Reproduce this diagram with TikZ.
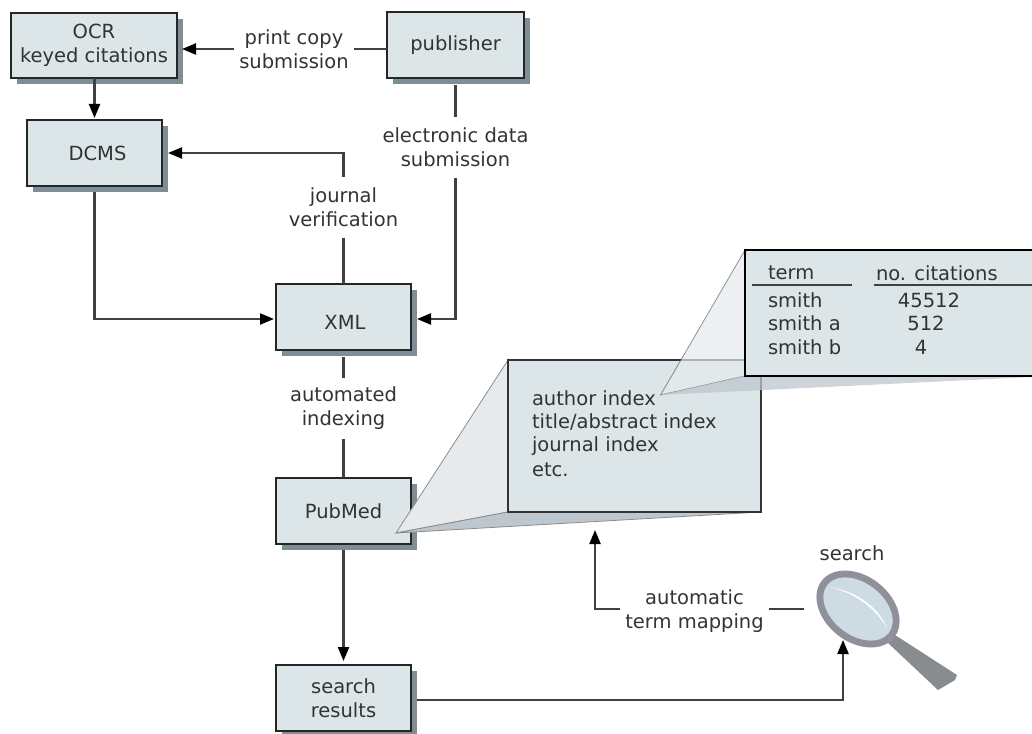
\documentclass[tikz,border=0pt]{standalone}
\usepackage{fontspec}
\setmainfont{DejaVu Sans}
\usetikzlibrary{arrows.meta,shadows,shapes.geometric}
\definecolor{boxfill}{HTML}{DCE6E8}
\definecolor{boxshadow}{HTML}{7D8E96}
\definecolor{inkgray}{HTML}{333333}
\definecolor{fanlight}{HTML}{E6EAEC}
\definecolor{fandark}{HTML}{BEC6CE}
\definecolor{lensring}{HTML}{90909C}
\definecolor{lensglass}{HTML}{CDDBE3}
\definecolor{lenshandle}{HTML}{868C90}
\tikzset{
  stage/.style={draw=black!85,line width=2.2pt,fill=boxfill,outer sep=0pt,inner sep=0pt,
    align=center,text=inkgray,font=\fontsize{19.5}{24}\selectfont,
    drop shadow={shadow xshift=6pt,shadow yshift=-6pt,fill=boxshadow,opacity=1}},
  lbl/.style={inner xsep=5pt,inner ysep=0pt,outer sep=0pt,minimum height=61pt,
    align=center,text=inkgray,font=\fontsize{19.5}{24}\selectfont},
  txt/.style={inner sep=0pt,outer sep=0pt,anchor=west,text=inkgray,font=\fontsize{19.5}{24}\selectfont},
  wire/.style={draw=black!75,line width=2.2pt},
  arr/.style={wire,-{Triangle[length=14pt,width=11pt,color=black]}}
}
\begin{document}
\begin{tikzpicture}[x=1pt,y=-1pt]
\useasboundingbox (0,0) rectangle (1032,733);
% boxes of the pipeline
\node[stage,minimum width=166pt,minimum height=65pt] (ocr) at (94,45.5) {OCR\\keyed citations};
\node[stage,minimum width=137pt,minimum height=66pt] (publisher) at (455.5,45) {publisher};
\node[stage,minimum width=135pt,minimum height=66pt] (dcms) at (94.5,153) {\hspace*{6pt}DCMS};
\node[stage,minimum width=135pt,minimum height=66pt] (xml) at (343.5,317) {\hspace*{3pt}\raisebox{-12pt}[0pt][0pt]{XML}};
\node[stage,minimum width=135pt,minimum height=66pt] (pubmed) at (343.5,511) {PubMed};
\node[stage,minimum width=135pt,minimum height=66pt] (results) at (343.5,698) {search\\results};
% labels on the wires
\node[lbl] (print) at (294,49) {print copy\\submission};
\node[lbl] (electronic) at (455.5,147.5) {electronic data\\submission};
\node[lbl] (journal) at (343.5,207) {journal\\verification};
\node[lbl] (automated) at (343.5,408) {automated\\indexing};
\node[lbl] (mapping) at (694.5,611) {automatic\\term mapping};
\node[text=inkgray,font=\fontsize{19.5}{24}\selectfont,inner sep=0pt] (search) at (852,553) {search};
% wires
\draw[wire] (publisher.west |- print) -- (print.east);
\draw[arr,shorten >=5pt] (print.west) -- (ocr.east |- print);
\draw[arr,shorten >=2pt] (ocr.south -| dcms) -- (dcms.north);
\draw[arr,shorten <=6pt,shorten >=2pt] (dcms.south) |- (xml.west |- 0,319);
\draw[wire] (xml.north) -- (journal.south);
\draw[arr,shorten >=6pt] (journal.north) |- (dcms.east);
\draw[wire,shorten <=7pt] (publisher.south) -- (electronic.north);
\draw[arr,shorten >=6pt] (electronic.south) |- (xml.east |- 0,319);
\draw[wire,shorten <=7pt] (xml.south) -- (automated.north);
\draw[wire] (automated.south) -- (pubmed.north);
\draw[arr,shorten <=6pt,shorten >=4pt] (pubmed.south) -- (results.north);
% magnifier
\fill[lenshandle] (888,643) -- (895,635) -- (957,675) -- (955,680) -- (938,690) -- cycle;
\node[ellipse,rotate=-38,fill=lensring,minimum width=92pt,minimum height=66pt,inner sep=0pt,outer sep=0pt] (lens) at (858,609) {};
\fill[rotate around={-38:(858,609)},lensglass] (858,609) ellipse [x radius=39pt,y radius=26pt];
\fill[white] (830,587) .. controls (860,592) and (880,610) .. (887,628) .. controls (875,608) and (855,593) .. (830,587);
\coordinate (lensleft) at (804,609);
\coordinate (lensfoot) at (843,640);
\draw[arr,shorten <=6pt] (results.east |- 0,700) -| (lensfoot);
\draw[wire] (lensleft) -- (mapping.east |- lensleft);
\coordinate (zoomfoot) at (595,530);
\draw[arr] (mapping.west |- lensleft) -| (zoomfoot);
% first zoom
\fill[fanlight,draw=black!45,line width=.8pt] (396,533) -- (508,360) -- (508,512) -- cycle;
\fill[fandark,draw=black!45,line width=.8pt] (396,533) -- (508,512) -- (761,512) -- cycle;
\node[draw=black!80,line width=2.2pt,fill=boxfill,outer sep=0pt,minimum width=253pt,minimum height=152pt] (index) at (634.5,436) {};
\node[txt] (authorindex) at (532,398) {author index};
\node[txt] (titleindex) at (532,422) {title/abstract index};
\node[txt] (journalindex) at (532,446) {journal index};
\node[txt] (etc) at (532,470) {etc.};
% second zoom
\fill[fanlight,opacity=.7,draw=black!70,draw opacity=.6,line width=.8pt] (660.5,395) -- (745,250) -- (745,376) -- cycle;
\fill[fandark,opacity=.75] (660.5,395) -- (745,376) -- (1032,377) -- cycle;
\node[draw=black,line width=2pt,fill=boxfill,outer sep=0pt,minimum width=300pt,minimum height=126pt] (table) at (895,313) {};
\node[txt] (termhead) at (768,273) {term};
\node[txt] (nohead) at (876,273) {no. citations};
\node[txt] (smith) at (768,300) {smith};
\node[txt] (smitha) at (768,323) {smith a};
\node[txt] (smithb) at (768,347) {smith b};
\node[txt,anchor=center] (na) at (929,300) {45512};
\node[txt,anchor=center] (nb) at (926,323) {512};
\node[txt,anchor=center] (nc) at (921,347) {4};
\coordinate (ruleaw) at (752,285);
\coordinate (ruleae) at (852,285);
\coordinate (rulebw) at (874,285);
\coordinate (rulebe) at (1032,285);
\draw[wire] (ruleaw) -- (ruleae);
\draw[wire] (rulebw) -- (rulebe);
\end{tikzpicture}
\end{document}
